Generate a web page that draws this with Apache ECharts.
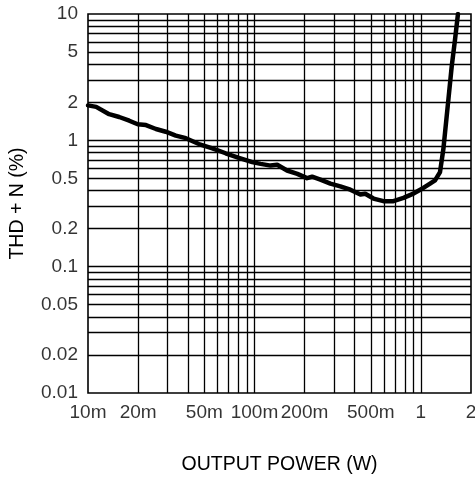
<!DOCTYPE html>
<html>
<head>
<meta charset="utf-8">
<script src="https://cdn.jsdelivr.net/npm/echarts@6/dist/echarts.min.js"></script>
<style>html,body{margin:0;padding:0;background:#fff;}#c{width:475px;height:480px;}</style>
</head>
<body>
<div id="c"></div>
<script>
// Output power (W)
var powerW = [0.01, 0.0112, 0.0134, 0.0154, 0.0177, 0.0199, 0.0223, 0.0256, 0.0293, 0.0337,
  0.0387, 0.0464, 0.0559, 0.0671, 0.0806, 0.097, 0.109, 0.125, 0.137, 0.157,
  0.181, 0.207, 0.222, 0.249, 0.286, 0.328, 0.377, 0.433, 0.463, 0.519,
  0.596, 0.684, 0.786, 0.902, 1.035, 1.135, 1.216, 1.303, 1.365, 1.397,
  1.463, 1.532, 1.603, 1.67];
// THD + N (%)
var thdN = [1.89, 1.84, 1.61, 1.53, 1.43, 1.34, 1.32, 1.23, 1.17, 1.09,
  1.04, 0.935, 0.865, 0.79, 0.726, 0.672, 0.651, 0.631, 0.64, 0.577,
  0.543, 0.502, 0.515, 0.488, 0.454, 0.432, 0.407, 0.372, 0.378, 0.346,
  0.33, 0.33, 0.35, 0.379, 0.42, 0.454, 0.482, 0.561, 0.855, 1.156,
  2.11, 3.86, 6.25, 10];

var xTickValues = [0.01, 0.02, 0.05, 0.1, 0.2, 0.5, 1, 2];
var xTickLabels = ['10m', '20m', '50m', '100m', '200m', '500m', '1', '2'];
var yTickValues = [0.01, 0.02, 0.05, 0.1, 0.2, 0.5, 1, 2, 5, 10];
var yTickLabels = ['0.01', '0.02', '0.05', '0.1', '0.2', '0.5', '1', '2', '5', '10'];

var xGridValues = [0.02, 0.03, 0.04, 0.05, 0.06, 0.07, 0.08, 0.09, 0.1,
  0.2, 0.3, 0.4, 0.5, 0.6, 0.7, 0.8, 0.9, 1];
var yGridValues = [0.02, 0.03, 0.04, 0.05, 0.06, 0.07, 0.08, 0.09, 0.1,
  0.2, 0.3, 0.4, 0.5, 0.6, 0.7, 0.8, 0.9, 1,
  2, 3, 4, 5, 6, 7, 8, 9];

var FONT = '"Liberation Sans", Arial, sans-serif';
var chart = echarts.init(document.getElementById('c'));

var curve = powerW.map(function (p, i) { return [p, thdN[i]]; });
var gridLines = xGridValues.map(function (v) { return { xAxis: v }; })
  .concat(yGridValues.map(function (v) { return { yAxis: v }; }));
var xLabelData = xTickValues.map(function (v, i) {
  return { value: [v, 0.01], label: { formatter: xTickLabels[i] } };
});
var yLabelData = yTickValues.map(function (v, i) {
  return { value: [0.01, v], label: { formatter: yTickLabels[i] } };
});

chart.setOption({
  animation: false,
  backgroundColor: '#fff',
  grid: { left: 87, right: 4, top: 14, bottom: 84, show: true, borderColor: '#000', borderWidth: 1.6, backgroundColor: 'transparent' },
  xAxis: {
    type: 'log', logBase: 10, min: 0.01, max: 2,
    axisLine: { show: false }, axisTick: { show: false }, axisLabel: { show: false },
    splitLine: { show: false }, minorSplitLine: { show: false },
    name: 'OUTPUT POWER (W)', nameLocation: 'middle', nameGap: 62,
    nameTextStyle: { fontFamily: FONT, fontSize: 19.5, color: '#000' }
  },
  yAxis: {
    type: 'log', logBase: 10, min: 0.01, max: 10,
    axisLine: { show: false }, axisTick: { show: false }, axisLabel: { show: false },
    splitLine: { show: false },
    name: 'THD + N (%)', nameLocation: 'middle', nameGap: 60, nameRotate: 90,
    nameTextStyle: { fontFamily: FONT, fontSize: 19.5, color: '#000' }
  },
  series: [
    {
      type: 'line', data: [], silent: true,
      markLine: {
        silent: true, symbol: ['none', 'none'], label: { show: false },
        lineStyle: { color: '#000', width: 1.3, type: 'solid' },
        emphasis: { disabled: true },
        data: gridLines
      }
    },
    {
      type: 'line', data: curve, showSymbol: false, symbol: 'none', silent: true,
      lineStyle: { color: '#000', width: 4.5, join: 'round', cap: 'round' },
      z: 5
    },
    {
      type: 'scatter', data: xLabelData, symbolSize: 0, silent: true, clip: false,
      label: { show: true, position: 'bottom', distance: 10, fontFamily: FONT, fontSize: 19, color: '#000' }
    },
    {
      type: 'scatter', data: yLabelData, symbolSize: 0, silent: true, clip: false,
      label: { show: true, position: 'left', distance: 10, fontFamily: FONT, fontSize: 19, color: '#000' }
    }
  ]
});
</script>
</body>
</html>
